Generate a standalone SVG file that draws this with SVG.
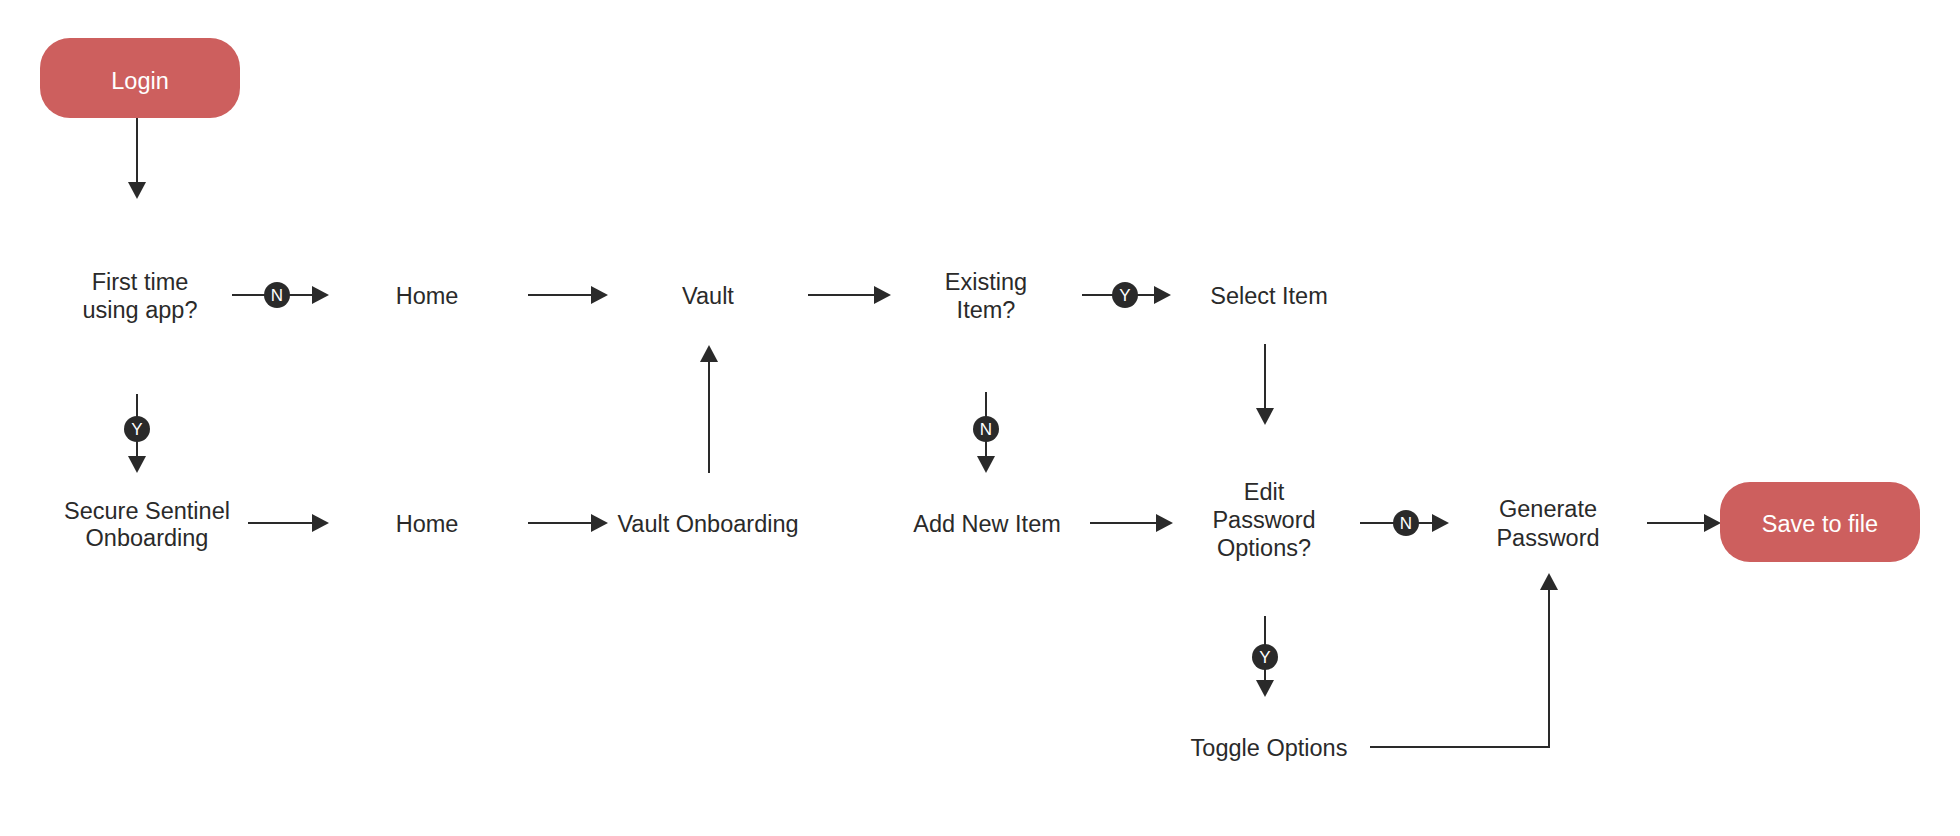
<svg xmlns="http://www.w3.org/2000/svg" width="1960" height="836" viewBox="0 0 1960 836">
<style>
.t{font-family:"Liberation Sans",Arial,sans-serif;font-size:23.5px;fill:#2a2a2a;text-anchor:middle}
.w{fill:#ffffff}
.box{fill:#cd5f5e}
.c{fill:none;stroke:#2a2a2a;stroke-width:2;marker-end:url(#ah)}
.dot{fill:#2a2a2a}
.l{font-family:"Liberation Sans",Arial,sans-serif;font-size:17px;fill:#ffffff;text-anchor:middle}
</style>
<defs>
<marker id="ah" markerUnits="userSpaceOnUse" markerWidth="18" markerHeight="18" refX="0" refY="9" orient="auto">
<path d="M0,0 L17,9 L0,18 Z" fill="#2a2a2a"/>
</marker>
</defs>
<rect width="1960" height="836" fill="#ffffff"/>
<g id="connectors">
<path class="c" d="M137,118 V182"/>
<path class="c" d="M232,295 H312"/>
<path class="c" d="M137,394 V456"/>
<path class="c" d="M248,523 H312"/>
<path class="c" d="M528,295 H591"/>
<path class="c" d="M528,523 H591"/>
<path class="c" d="M709,473 V362"/>
<path class="c" d="M808,295 H874"/>
<path class="c" d="M1082,295 H1154"/>
<path class="c" d="M986,392 V456"/>
<path class="c" d="M1265,344 V408"/>
<path class="c" d="M1090,523 H1156"/>
<path class="c" d="M1360,523 H1432"/>
<path class="c" d="M1265,616 V680"/>
<path class="c" d="M1370,747 H1549 V590"/>
<path class="c" d="M1647,523 H1704"/>
<g id="labels">
<circle class="dot" cx="277" cy="295" r="13"/><text class="l" x="277" y="301">N</text>
<circle class="dot" cx="137" cy="429" r="13"/><text class="l" x="137" y="435">Y</text>
<circle class="dot" cx="1125" cy="295" r="13"/><text class="l" x="1125" y="301">Y</text>
<circle class="dot" cx="986" cy="429" r="13"/><text class="l" x="986" y="435">N</text>
<circle class="dot" cx="1406" cy="523" r="13"/><text class="l" x="1406" y="529">N</text>
<circle class="dot" cx="1265" cy="657" r="13"/><text class="l" x="1265" y="663">Y</text>
</g>
</g>
<g id="login"><rect class="box" x="40" y="38" width="200" height="80" rx="30"/><text class="t w" x="140" y="88.5">Login</text></g>
<g id="first-time"><text class="t" x="140" y="289.5">First time</text><text class="t" x="140" y="317.5">using app?</text></g>
<g id="home-1"><text class="t" x="427" y="304">Home</text></g>
<g id="vault"><text class="t" x="708" y="304">Vault</text></g>
<g id="existing-item"><text class="t" x="986" y="289.5">Existing</text><text class="t" x="986" y="317.5">Item?</text></g>
<g id="select-item"><text class="t" x="1269" y="304">Select Item</text></g>
<g id="secure-onboarding"><text class="t" x="147" y="518.5">Secure Sentinel</text><text class="t" x="147" y="545.5">Onboarding</text></g>
<g id="home-2"><text class="t" x="427" y="532">Home</text></g>
<g id="vault-onboarding"><text class="t" x="708" y="532">Vault Onboarding</text></g>
<g id="add-new-item"><text class="t" x="987" y="532">Add New Item</text></g>
<g id="edit-options"><text class="t" x="1264" y="499.5">Edit</text><text class="t" x="1264" y="527.5">Password</text><text class="t" x="1264" y="555.5">Options?</text></g>
<g id="generate-password"><text class="t" x="1548" y="516.5">Generate</text><text class="t" x="1548" y="545.5">Password</text></g>
<g id="save-to-file"><rect class="box" x="1720" y="482" width="200" height="80" rx="30"/><text class="t w" x="1820" y="532">Save to file</text></g>
<g id="toggle-options"><text class="t" x="1269" y="756">Toggle Options</text></g>
</svg>
